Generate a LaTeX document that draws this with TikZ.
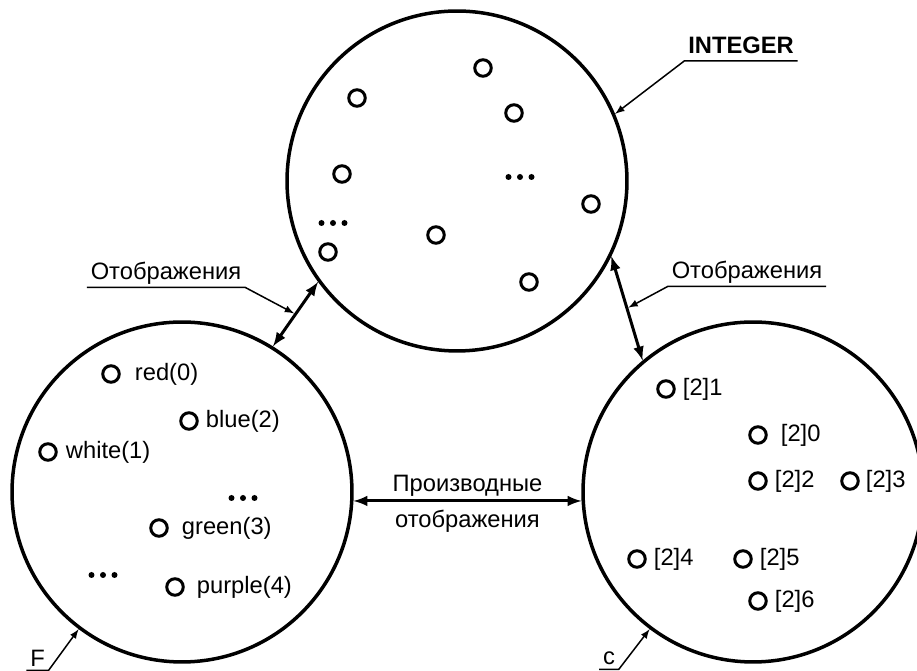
\documentclass[tikz,border=0pt]{standalone}
\usepackage{fontspec}
\setmainfont{Liberation Sans}
\usetikzlibrary{%
  arrows,%
  positioning%
}
\tikzset{>=latex}
\tikzset{
  setcirc/.style={draw,circle,line width=0.07cm,minimum size=6.8cm,inner sep=0pt},
  elem/.style={draw,circle,line width=0.06cm,minimum size=0.33cm,inner sep=0pt},
  lbl/.style={font=\fontsize{13.5}{16}\selectfont},
  dbl/.style={<->,line width=0.06cm},
  leader/.style={->,line width=0.03cm},
  tag/.style={font=\fontsize{13.5}{16}\selectfont,inner xsep=0.07cm,inner ysep=0pt,text depth=0.14cm,anchor=base}
}

\begin{document}
\begin{tikzpicture}[x=0.02cm,y=-0.02cm]
    \useasboundingbox (0,0) rectangle (917,671);
    % the three sets
    \node[setcirc] (intg) at (457,181) {};
    \node[setcirc] (fset) at (182,492) {};
    \node[setcirc] (cset) at (753,492) {};
    % INTEGER values
    \foreach \px/\py [count=\i] in {483/68,357/98,514/113,342/174,591/204,436/235,328/252,529/282}
      \node[elem] (t\i) at (\px,\py) {};
    \foreach \px/\py in {520/177,333/223,243/498,103/575}
      \foreach \dx in {-11.5,0,11.5}
        \fill (\px+\dx,\py) circle (0.06cm);
    % F values
    \node[elem] (f0) at (111,374) {};
    \node[lbl,right=0.16cm of f0] (f0t) {red(0)};
    \node[elem] (f2) at (189,421) {};
    \node[lbl,right=0.02cm of f2] (f2t) {blue(2)};
    \node[elem] (f1) at (48,452) {};
    \node[lbl,right=0.04cm of f1] (f1t) {white(1)};
    \node[elem] (f3) at (159,528) {};
    \node[lbl,right=0.14cm of f3] (f3t) {green(3)};
    \node[elem] (f4) at (175,587) {};
    \node[lbl,right=0.12cm of f4] (f4t) {purple(4)};
    % c values
    \node[elem] (c1) at (666,389) {};
    \node[lbl,right=0.02cm of c1] (c1t) {[2]1};
    \node[elem] (c0) at (758,435) {};
    \node[lbl,right=0.14cm of c0] (c0t) {[2]0};
    \node[elem] (c2) at (758,481) {};
    \node[lbl,right=0.02cm of c2] (c2t) {[2]2};
    \node[elem] (c3) at (850,481) {};
    \node[lbl,right=0.0cm of c3] (c3t) {[2]3};
    \node[elem] (c4) at (637,559) {};
    \node[lbl,right=0.02cm of c4] (c4t) {[2]4};
    \node[elem] (c5) at (743,559) {};
    \node[lbl,right=0.02cm of c5] (c5t) {[2]5};
    \node[elem] (c6) at (758,601) {};
    \node[lbl,right=0.02cm of c6] (c6t) {[2]6};
    % mappings
    \draw[dbl] (intg.216.5) -- coordinate[pos=0.5] (mapl) (fset.58);
    \draw[dbl] (intg.-26) -- coordinate[pos=0.5] (mapr) (cset.130);
    \draw[dbl] (fset.-3.7) -- node[lbl,above=-0.05cm] (dtop) {Производные}
      node[lbl,below=0.03cm] (dbot) {отображения} (cset.183.7);
    % leaders
    \node[tag,font=\fontsize{13.5}{16}\selectfont\bfseries] (intgtag) at (741,53.5) {INTEGER};
    \draw[leader] (intgtag.south east) -- (intgtag.south west) -- (intg.23);
    \node[tag] (mapltag) at (166,280) {Отображения};
    \draw[leader,shorten >=0.03cm] (mapltag.south west) -- (mapltag.south east) -- (mapl);
    \node[tag] (maprtag) at (747,279) {Отображения};
    \draw[leader,shorten >=0.03cm] (maprtag.south east) -- (maprtag.south west) -- (mapr);
    \node[tag,text depth=0.06cm] (ftag) at (37.5,667) {F};
    \draw[leader] (ftag.south west) -- (ftag.south east) -- (fset.233);
    \node[tag,text depth=0.08cm] (ctag) at (609,665) {c};
    \draw[leader] (ctag.south west) -- (ctag.south east) -- (cset.233);
  \end{tikzpicture}
\end{document}
